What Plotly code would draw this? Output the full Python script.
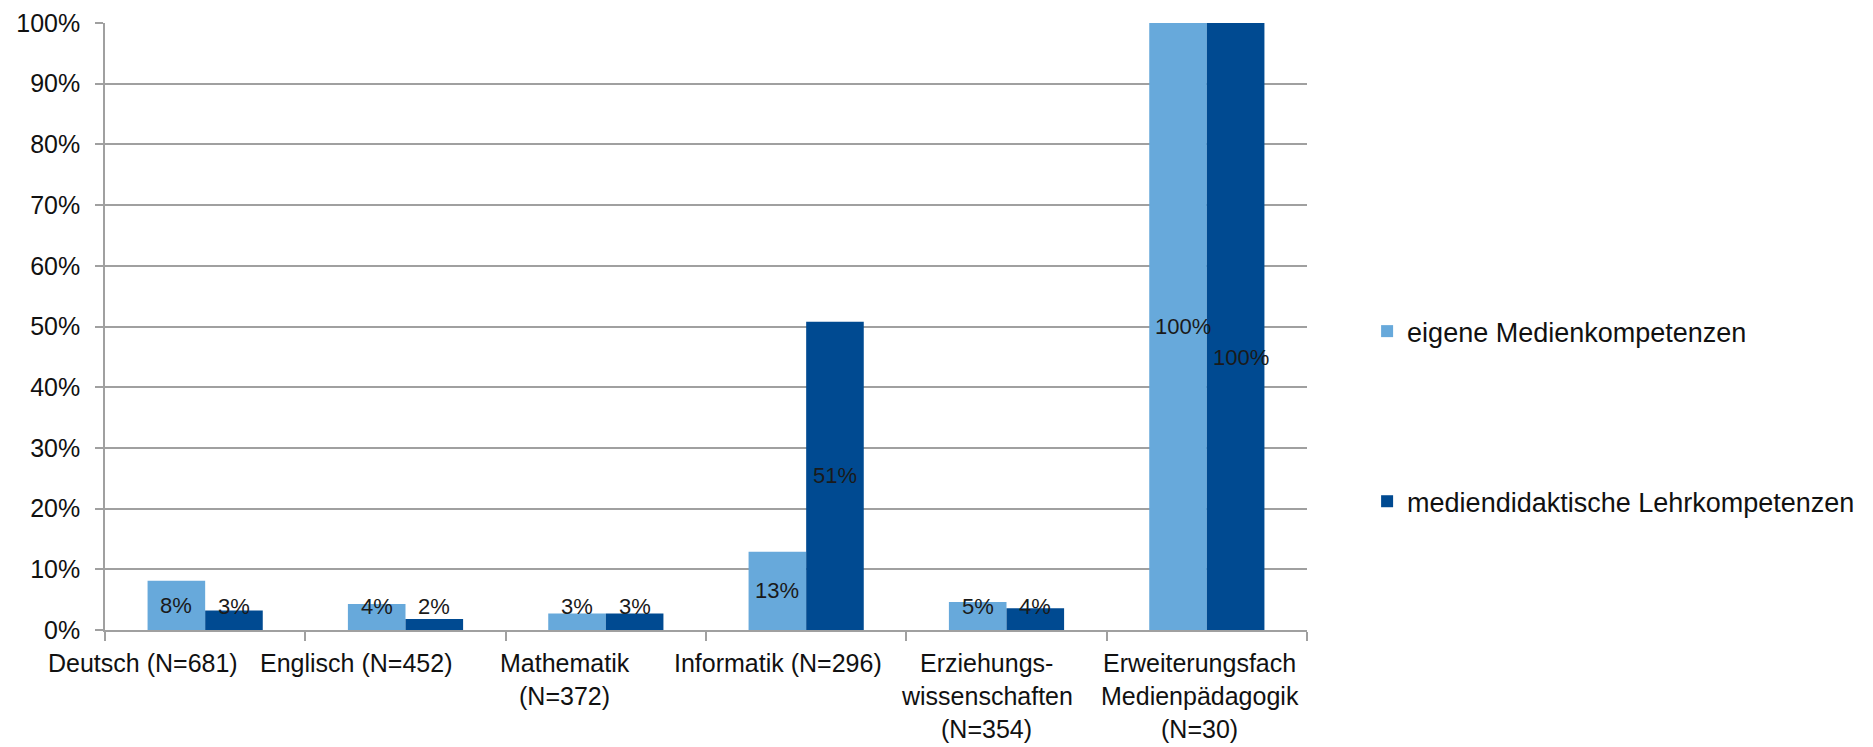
import plotly.graph_objects as go

# Fächergruppen (Kategorien der x-Achse)
faecher = [
    "Deutsch (N=681)",
    "Englisch (N=452)",
    "Mathematik<br>(N=372)",
    "Informatik (N=296)",
    "Erziehungs-<br>wissenschaften<br>(N=354)",
    "Erweiterungsfach<br>Medienpädagogik<br>(N=30)",
]

# Anteile je Reihe (0..1)
eigene = [0.081, 0.043, 0.027, 0.129, 0.046, 1.00]
lehr = [0.032, 0.018, 0.027, 0.508, 0.036, 1.00]

reihen = ["eigene Medienkompetenzen", "mediendidaktische Lehrkompetenzen"]
farben = ["#67a9db", "#004a91"]

FONT = "Liberation Sans, Arial, sans-serif"

fig = go.Figure()
for name, vals, col, grp in zip(reihen, [eigene, lehr], farben, ["a", "b"]):
    fig.add_trace(go.Bar(
        x=faecher, y=vals, name=name, legendgroup=grp,
        marker=dict(color=col, line=dict(width=0)),
        hoverinfo="skip",
    ))

L, R, T, B = 105, 566, 23, 117
W, H = 1873, 747
plot_w = W - L - R
cat_w = plot_w / len(faecher)
bargap = 0.425
bar_w = cat_w * (1 - bargap) / 2
annotations = []

# Datenbeschriftungen: mittig im Balken, bei flachen Balken über der Achse gehalten
min_y = 0.038
for k, vals in enumerate([eigene, lehr]):
    shift = (k - 0.5) * bar_w
    for i, v in enumerate(vals):
        txt = f"{v:.0%}"
        yy = max(v / 2, min_y)
        ys = 0
        # gleich hohe, breite Beschriftungen der zweiten Reihe nach unten versetzen
        if k == 1 and len(txt) > 3 and eigene[i] == v:
            ys = -31
        annotations.append(dict(
            x=faecher[i], y=yy, xref="x", yref="y",
            text=txt, showarrow=False, xshift=shift + (5 if len(txt) > 3 else 0),
            yshift=ys, font=dict(family=FONT, size=22, color="#1a1a1a"),
            xanchor="center", yanchor="middle",
        ))

# Kategorienbeschriftung zeilenweise unter der Achse, leicht nach links versetzt
label_dx = [-62, -50, -41, -28, -20, -7]
line_step = 33
for i, cat in enumerate(faecher):
    for j, line in enumerate(cat.split("<br>")):
        annotations.append(dict(
            x=cat, y=0, xref="x", yref="paper",
            text=line, showarrow=False,
            xshift=label_dx[i], yshift=-(33 + line_step * j),
            xanchor="center", yanchor="middle",
            font=dict(family=FONT, size=25, color="#111111"),
        ))

fig.update_layout(
    width=W, height=H,
    margin=dict(l=L, r=R, t=T, b=B, pad=0, autoexpand=False),
    paper_bgcolor="white", plot_bgcolor="white",
    barmode="group", bargap=bargap, bargroupgap=0,
    font=dict(family=FONT, size=25, color="#111111"),
    showlegend=True,
    legend=dict(
        x=1.05, y=0.532, xanchor="left", yanchor="top",
        font=dict(family=FONT, size=27, color="#111111"),
        tracegroupgap=132, itemwidth=30, traceorder="grouped",
        bgcolor="rgba(0,0,0,0)", borderwidth=0,
    ),
    annotations=annotations,
)

fig.update_xaxes(
    type="category", range=[-0.5, len(faecher) - 0.5], autorange=False,
    tickangle=0, automargin=False, showticklabels=False,
    showline=True, linecolor="#a0a0a0", linewidth=1.5,
    ticks="outside", tickson="boundaries", ticklen=9, tickwidth=1.5,
    tickcolor="#a0a0a0", showgrid=False,
)
fig.update_yaxes(
    range=[0, 1], autorange=False, dtick=0.1, tickformat=".0%", automargin=False,
    showline=True, linecolor="#a0a0a0", linewidth=1.5,
    showgrid=True, gridcolor="#a0a0a0", gridwidth=1.5,
    ticks="outside", ticklen=8, tickwidth=1.5, tickcolor="#a0a0a0",
    ticklabelstandoff=10, zeroline=False,
    tickfont=dict(family=FONT, size=25, color="#111111"),
)

fig.write_html("out.html")
